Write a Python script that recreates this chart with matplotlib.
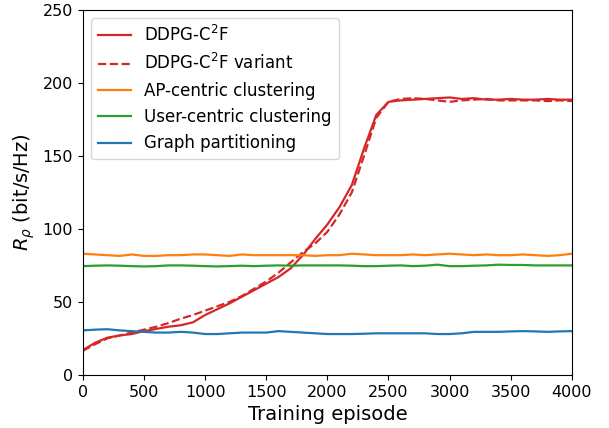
import matplotlib
matplotlib.use('Agg')
import matplotlib.pyplot as plt

episodes = list(range(0, 4001, 100))

ddpg = [17, 22, 25.5, 27, 28, 30, 31.5, 33, 34, 36,
        41, 45, 49, 53.5, 58, 62.5, 67, 73, 82, 93,
        103, 115, 130, 155, 178, 187, 188, 188.5, 189, 189.5,
        190, 189, 189.5, 188.5, 188.5, 189, 188.5, 188.5, 189, 188.5, 188.5]
ddpg_variant = [16.5, 21, 25, 27, 29, 31, 33, 35.5, 38.5, 41,
                44, 47, 50, 54, 59, 64, 70, 77, 84, 90,
                98, 110, 125, 150, 176, 187, 189, 189.5, 189, 188,
                187, 188, 188.5, 189, 188, 188, 188, 188, 187.5, 188, 187.5]
ap_centric = [83, 82.5, 82, 81.5, 82.5, 81.5, 81.5, 82, 82, 82.5,
              82.5, 82, 81.5, 82.5, 82, 82, 82, 82, 82, 81.5,
              82, 82, 83, 82.5, 82, 82, 82, 82.5, 82, 82.5,
              83, 82.5, 82, 82.5, 82, 82, 82.5, 82, 81.5, 82, 83]
user_centric = [74.5, 74.8, 75, 74.8, 74.5, 74.3, 74.5, 75, 75, 74.8,
                74.5, 74.3, 74.5, 74.8, 74.5, 74.8, 75, 74.8, 75, 75,
                75, 75, 74.8, 74.5, 74.5, 74.8, 75, 74.5, 74.8, 75.5,
                74.5, 74.5, 74.8, 75, 75.5, 75.3, 75.3, 75, 75, 75, 75]
graph_part = [30.5, 31, 31.3, 30.5, 30, 29.5, 29, 29, 29.5, 29,
              28, 28, 28.5, 29, 29, 29, 30, 29.5, 29, 28.5,
              28, 28, 28, 28.2, 28.5, 28.5, 28.5, 28.5, 28.5, 28,
              28, 28.5, 29.5, 29.5, 29.5, 29.8, 30, 29.8, 29.5, 29.8, 30]

fig = plt.figure(figsize=(6.09, 4.28), dpi=100)
ax = fig.add_axes([0.136, 0.124, 0.803, 0.853])

ax.plot(episodes, ddpg, color='#d62728', lw=1.6, label='DDPG-C$^2$F')
ax.plot(episodes, ddpg_variant, color='#d62728', lw=1.6, ls='--', label='DDPG-C$^2$F variant')
ax.plot(episodes, ap_centric, color='#ff7f0e', lw=1.6, label='AP-centric clustering')
ax.plot(episodes, user_centric, color='#2ca02c', lw=1.6, label='User-centric clustering')
ax.plot(episodes, graph_part, color='#1f77b4', lw=1.6, label='Graph partitioning')

ax.set_xlim(0, 4000)
ax.set_ylim(0, 250)
ax.set_xticks(range(0, 4001, 500))
ax.set_yticks(range(0, 251, 50))
ax.tick_params(labelsize=11.5)
ax.set_xlabel('Training episode', fontsize=14)
ax.set_ylabel(r'$R_\rho$ (bit/s/Hz)', fontsize=14)
ax.legend(loc='upper left', fontsize=12)

fig.savefig('out.png', dpi=100)
